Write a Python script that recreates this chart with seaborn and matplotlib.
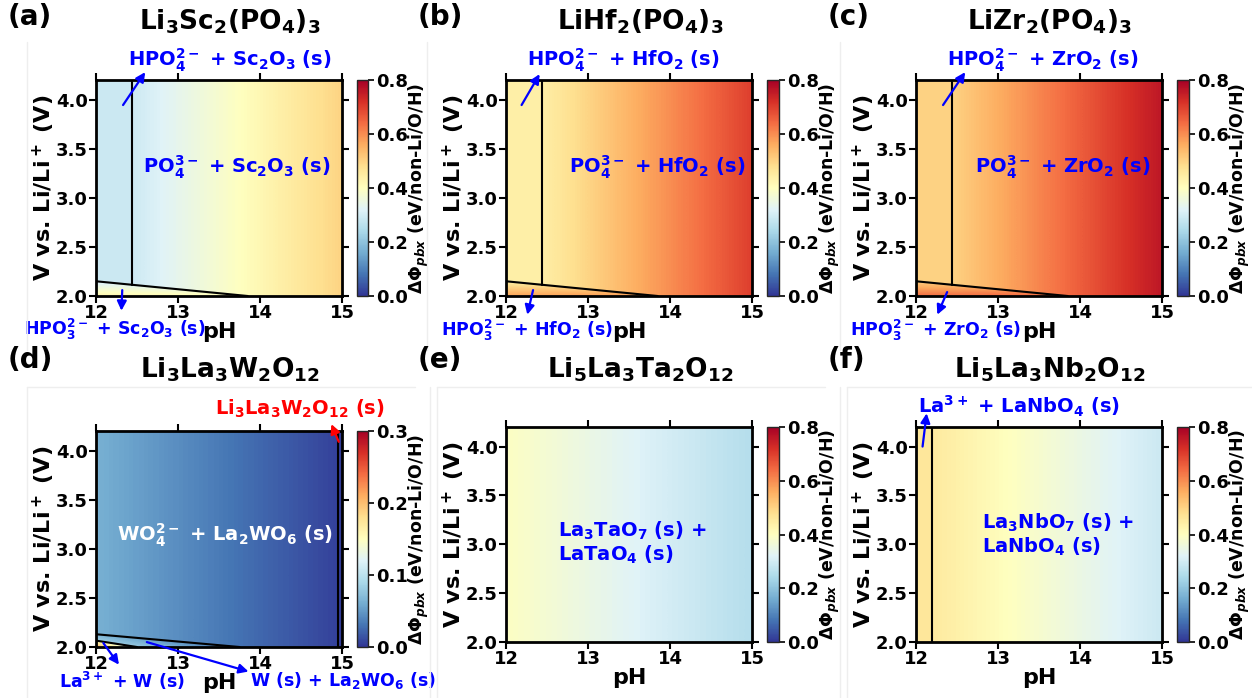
import numpy as np
import matplotlib
matplotlib.use("Agg")
import matplotlib.pyplot as plt
import seaborn as sns
from matplotlib.patches import Polygon
from matplotlib.colors import Normalize
from matplotlib.cm import ScalarMappable
from matplotlib.lines import Line2D

sns.set_style("white")
plt.rcParams['font.family'] = ['DejaVu Sans']
plt.rcParams['font.weight'] = 'bold'
plt.rcParams['axes.labelweight'] = 'bold'
plt.rcParams['text.color'] = 'black'
plt.rcParams['axes.labelcolor'] = 'black'
plt.rcParams['xtick.color'] = 'black'
plt.rcParams['ytick.color'] = 'black'
plt.rcParams['mathtext.fontset'] = 'custom'
plt.rcParams['mathtext.rm'] = 'DejaVu Sans:bold'
plt.rcParams['mathtext.bf'] = 'DejaVu Sans:bold'
plt.rcParams['mathtext.it'] = 'DejaVu Sans:bold:italic'
plt.rcParams['mathtext.sf'] = 'DejaVu Sans:bold'
plt.rcParams['mathtext.default'] = 'rm'

# ---------------- data ----------------
PH_LIM = [12, 15]
V_LIM = [2.0, 4.2]
PH_TICKS = [12, 13, 14, 15]
V_TICKS = [2.0, 2.5, 3.0, 3.5, 4.0]

panel_labels = ['(a)', '(b)', '(c)', '(d)', '(e)', '(f)']
titles = [r'Li$_3$Sc$_2$(PO$_4$)$_3$', r'LiHf$_2$(PO$_4$)$_3$', r'LiZr$_2$(PO$_4$)$_3$',
          r'Li$_3$La$_3$W$_2$O$_{12}$', r'Li$_5$La$_3$Ta$_2$O$_{12}$', r'Li$_5$La$_3$Nb$_2$O$_{12}$']
cbar_max = [0.8, 0.8, 0.8, 0.3, 0.8, 0.8]
cbar_ticks_08 = [0.0, 0.2, 0.4, 0.6, 0.8]
cbar_ticks_03 = [0.0, 0.1, 0.2, 0.3]

# phase boundary lines (pH, V)
nasicon_slope_ph = [12.0, 13.85]
nasicon_slope_v = [2.15, 2.0]
nasicon_vert_ph = [12.44, 12.44]
nasicon_vert_v = [2.114, 4.2]

d_top_ph = [12.0, 13.75]
d_top_v = [2.13, 2.0]
d_low_ph = [12.0, 12.5]
d_low_v = [2.065, 2.0]
d_vert_ph = [14.95, 14.95]
d_vert_v = [2.0, 4.2]

f_vert_ph = [12.19, 12.19]
f_vert_v = [2.0, 4.2]

# region polygons
nas_left_ph = [12.0, 12.44, 12.44, 12.0]
nas_left_v = [2.15, 2.114, 4.2, 4.2]
nas_main_ph = [12.44, 13.85, 15.0, 15.0, 12.44]
nas_main_v = [2.114, 2.0, 2.0, 4.2, 4.2]
nas_bot_ph = [12.0, 13.85, 12.0]
nas_bot_v = [2.0, 2.0, 2.15]

d_main_ph = [12.0, 13.75, 14.95, 14.95, 12.0]
d_main_v = [2.13, 2.0, 2.0, 4.2, 4.2]
d_strip_ph = [14.95, 15.0, 15.0, 14.95]
d_strip_v = [2.0, 2.0, 4.2, 4.2]
d_mid_ph = [12.0, 12.5, 13.75, 12.0]
d_mid_v = [2.065, 2.0, 2.0, 2.13]
d_bot_ph = [12.0, 12.5, 12.0]
d_bot_v = [2.0, 2.0, 2.065]

full_ph = [12.0, 15.0, 15.0, 12.0]
full_v = [2.0, 2.0, 4.2, 4.2]
f_left_ph = [12.0, 12.19, 12.19, 12.0]
f_left_v = [2.0, 2.0, 4.2, 4.2]
f_main_ph = [12.19, 15.0, 15.0, 12.19]
f_main_v = [2.0, 2.0, 4.2, 4.2]

# dPhi values at corners of each region's box: rows = [V low, V high], cols = [pH low, pH high]
a_left_vals = [[0.29, 0.29], [0.29, 0.29]]
a_main_vals = [[0.29, 0.50], [0.29, 0.50]]
a_bot_vals = [[0.43, 0.405], [0.30, 0.275]]
b_left_vals = [[0.44, 0.44], [0.44, 0.44]]
b_main_vals = [[0.44, 0.70], [0.44, 0.70]]
b_bot_vals = [[0.575, 0.585], [0.44, 0.45]]
c_left_vals = [[0.50, 0.50], [0.50, 0.50]]
c_main_vals = [[0.50, 0.76], [0.50, 0.76]]
c_bot_vals = [[0.64, 0.645], [0.50, 0.505]]
d_main_vals = [[0.063, 0.006], [0.063, 0.006]]
d_strip_vals = [[0.004, 0.004], [0.004, 0.004]]
d_mid_vals = [[0.10, 0.03], [0.063, 0.0]]
d_bot_vals = [[0.21, 0.12], [0.15, 0.06]]
e_vals = [[0.395, 0.255], [0.395, 0.255]]
f_left_vals = [[0.46, 0.46], [0.46, 0.46]]
f_main_vals = [[0.455, 0.29], [0.455, 0.29]]

# ---------------- drawing ----------------
CMAP = plt.get_cmap('RdYlBu_r')
W, H = 1252, 698
fig = plt.figure(figsize=(12.52, 6.98), dpi=100)


def px_axes(x0, y0, x1, y1):
    return fig.add_axes([x0 / W, 1 - y1 / H, (x1 - x0) / W, (y1 - y0) / H])


def draw_region(ax, poly_ph, poly_v, vals, norm):
    # pixel centres of the 2x2 image sit on the box corners -> bilinear = linear in box
    p0, p1 = min(poly_ph), max(poly_ph)
    v0, v1 = min(poly_v), max(poly_v)
    dp, dv = (p1 - p0) / 2, (v1 - v0) / 2
    im = ax.imshow(np.array(vals), origin='lower', aspect='auto', cmap=CMAP, norm=norm,
                   interpolation='bilinear', interpolation_stage='data',
                   extent=[p0 - dp, p1 + dp, v0 - dv, v1 + dv])
    patch = Polygon(np.column_stack([poly_ph, poly_v]), closed=True,
                    transform=ax.transData, facecolor='none', edgecolor='none')
    im.set_clip_path(patch)


def draw_line(ax, ph, v):
    sns.lineplot(x=ph, y=v, sort=False, estimator=None, color='black',
                 linewidth=1.5, ax=ax, legend=False)


def arrow(ax, tail, head, color='blue'):
    ax.annotate('', xy=head, xytext=tail,
                arrowprops=dict(arrowstyle='-|>', color=color, lw=1.6, mutation_scale=14,
                                shrinkA=0, shrinkB=0),
                annotation_clip=False)


# faint panel frames seen in the background of the reference
for (x0, y0, x1, y1) in [(27, 42, 27, 350), (427, 42, 427, 350), (840, 42, 840, 350),
                         (27, 387, 27, 698), (437, 387, 437, 698), (847, 387, 847, 698),
                         (27, 387, 415, 387), (437, 387, 825, 387), (847, 387, 1252, 387),
                         (430, 387, 430, 698), (840, 387, 840, 698)]:
    fig.add_artist(Line2D([x0 / W, x1 / W], [1 - y0 / H, 1 - y1 / H], color='#eeeeee', lw=1))

col_x = [(96, 342, 357, 368), (506, 752, 767, 779), (916, 1162, 1177, 1189)]
row_y = [[(80, 296), (80, 296), (80, 296)], [(431, 647), (427, 642), (427, 642)]]
title_pos = [(230, 22), (640, 22), (1050, 22), (230, 370), (640, 370), (1050, 370)]
label_pos = [(8, 17), (418, 17), (828, 17), (8, 360), (418, 360), (828, 360)]

region_sets = [
    [(nas_left_ph, nas_left_v, a_left_vals), (nas_main_ph, nas_main_v, a_main_vals), (nas_bot_ph, nas_bot_v, a_bot_vals)],
    [(nas_left_ph, nas_left_v, b_left_vals), (nas_main_ph, nas_main_v, b_main_vals), (nas_bot_ph, nas_bot_v, b_bot_vals)],
    [(nas_left_ph, nas_left_v, c_left_vals), (nas_main_ph, nas_main_v, c_main_vals), (nas_bot_ph, nas_bot_v, c_bot_vals)],
    [(d_main_ph, d_main_v, d_main_vals), (d_strip_ph, d_strip_v, d_strip_vals), (d_mid_ph, d_mid_v, d_mid_vals), (d_bot_ph, d_bot_v, d_bot_vals)],
    [(full_ph, full_v, e_vals)],
    [(f_left_ph, f_left_v, f_left_vals), (f_main_ph, f_main_v, f_main_vals)],
]
line_sets = [
    [(nasicon_slope_ph, nasicon_slope_v), (nasicon_vert_ph, nasicon_vert_v)],
    [(nasicon_slope_ph, nasicon_slope_v), (nasicon_vert_ph, nasicon_vert_v)],
    [(nasicon_slope_ph, nasicon_slope_v), (nasicon_vert_ph, nasicon_vert_v)],
    [(d_top_ph, d_top_v), (d_low_ph, d_low_v), (d_vert_ph, d_vert_v)],
    [],
    [(f_vert_ph, f_vert_v)],
]

axes = []
for i in range(6):
    r, c = divmod(i, 3)
    x0, x1, cx0, cx1 = col_x[c]
    y0, y1 = row_y[r][c]
    ax = px_axes(x0, y0, x1, y1)
    cax = px_axes(cx0, y0, cx1, y1)
    norm = Normalize(0, cbar_max[i])
    for poly_ph, poly_v, vals in region_sets[i]:
        draw_region(ax, poly_ph, poly_v, vals, norm)
    for ph, v in line_sets[i]:
        draw_line(ax, ph, v)
    ax.set_xlim(PH_LIM)
    ax.set_ylim(V_LIM)
    ax.set_xticks(PH_TICKS)
    ax.set_yticks(V_TICKS)
    ax.set_xticklabels([str(t) for t in PH_TICKS])
    ax.set_yticklabels([f'{t:.1f}' for t in V_TICKS])
    ax.tick_params(direction='out', length=5, width=1.5, labelsize=13,
                   top=True, right=True, bottom=True, left=True, pad=1)
    for sp in ax.spines.values():
        sp.set_linewidth(2)
        sp.set_color('black')
    ax.set_xlabel('pH', fontsize=16, fontweight='bold', labelpad=0)
    ax.set_ylabel(r'V vs. Li/Li$^+$ (V)', fontsize=16, fontweight='bold', labelpad=-1)
    cb = fig.colorbar(ScalarMappable(norm=norm, cmap=CMAP), cax=cax)
    cb.set_ticks(cbar_ticks_03 if cbar_max[i] < 0.5 else cbar_ticks_08)
    cb.ax.tick_params(labelsize=13, length=4, width=1.2, pad=2)
    cb.outline.set_linewidth(1.0)
    cb.set_label(r'$\Delta\Phi_{\mathit{pbx}}$ (eV/non-Li/O/H)', fontsize=12.5, fontweight='bold', labelpad=-1)
    tx, ty = title_pos[i]
    fig.text(tx / W, 1 - ty / H, titles[i], ha='center', va='center', fontsize=19, fontweight='bold')
    lx, ly = label_pos[i]
    fig.text(lx / W, 1 - ly / H, panel_labels[i], ha='left', va='center', fontsize=20, fontweight='bold')
    axes.append(ax)

TXT = dict(fontsize=14, fontweight='bold', color='blue')
TXS = dict(fontsize=12.5, fontweight='bold', color='blue')

# (a)
ax = axes[0]
ax.text(13.63, 4.40, r'HPO$_4^{2-}$ + Sc$_2$O$_3$ (s)', ha='center', va='center', **TXT)
ax.text(13.72, 3.31, r'PO$_4^{3-}$ + Sc$_2$O$_3$ (s)', ha='center', va='center', **TXT)
ax.text(12.23, 1.66, r'HPO$_3^{2-}$ + Sc$_2$O$_3$ (s)', ha='center', va='center', **TXS)
arrow(ax, (12.33, 3.945), (12.6, 4.28))
arrow(ax, (12.32, 2.06), (12.31, 1.85))
# (b)
ax = axes[1]
ax.text(13.43, 4.40, r'HPO$_4^{2-}$ + HfO$_2$ (s)', ha='center', va='center', **TXT)
ax.text(13.84, 3.31, r'PO$_4^{3-}$ + HfO$_2$ (s)', ha='center', va='center', **TXT)
ax.text(12.25, 1.65, r'HPO$_3^{2-}$ + HfO$_2$ (s)', ha='center', va='center', **TXS)
arrow(ax, (12.19, 3.945), (12.41, 4.26))
arrow(ax, (12.33, 2.06), (12.26, 1.81))
# (c)
ax = axes[2]
ax.text(13.55, 4.40, r'HPO$_4^{2-}$ + ZrO$_2$ (s)', ha='center', va='center', **TXT)
ax.text(13.79, 3.31, r'PO$_4^{3-}$ + ZrO$_2$ (s)', ha='center', va='center', **TXT)
ax.text(12.24, 1.65, r'HPO$_3^{2-}$ + ZrO$_2$ (s)', ha='center', va='center', **TXS)
arrow(ax, (12.33, 3.945), (12.6, 4.28))
arrow(ax, (12.38, 2.04), (12.26, 1.81))
# (d)
ax = axes[3]
ax.text(14.49, 4.43, r'Li$_3$La$_3$W$_2$O$_{12}$ (s)', ha='center', va='center',
        fontsize=14, fontweight='bold', color='red')
arrow(ax, (14.96, 4.09), (14.87, 4.27), color='red')
ax.text(13.57, 3.14, r'WO$_4^{2-}$ + La$_2$WO$_6$ (s)', ha='center', va='center',
        fontsize=14, fontweight='bold', color='white')
ax.text(12.31, 1.65, r'La$^{3+}$ + W (s)', ha='center', va='center', **TXS)
arrow(ax, (12.09, 2.04), (12.28, 1.82))
ax.text(13.88, 1.66, r'W (s) + La$_2$WO$_6$ (s)', ha='left', va='center', **TXS)
arrow(ax, (12.62, 2.05), (13.86, 1.75))
# (e)
ax = axes[4]
ax.text(12.64, 3.01, 'La$_3$TaO$_7$ (s) +\nLaTaO$_4$ (s)', ha='left', va='center',
        linespacing=1.1, **TXT)
# (f)
ax = axes[5]
ax.text(12.81, 3.10, 'La$_3$NbO$_7$ (s) +\nLaNbO$_4$ (s)', ha='left', va='center',
        linespacing=1.1, **TXT)
ax.text(12.02, 4.41, r'La$^{3+}$ + LaNbO$_4$ (s)', ha='left', va='center', **TXT)
arrow(ax, (12.08, 4.0), (12.13, 4.34))

fig.savefig('out.png', dpi=100)
